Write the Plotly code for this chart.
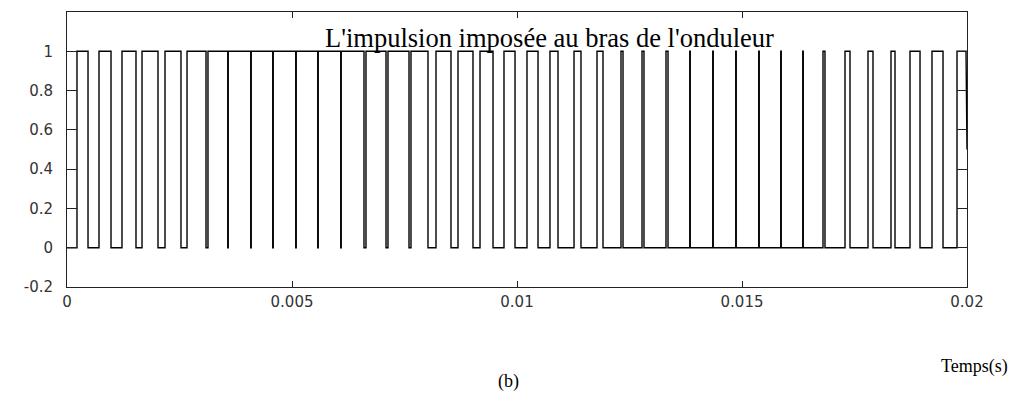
import plotly.graph_objects as go

# Switching instants of the inverter-leg gate signal (s); the signal starts at 0
# and toggles between 0 and 1 at every instant listed.
t_switch = [
    0.000222, 0.000467, 0.000711, 0.000978, 0.001222, 0.001533, 0.001667,
    0.002022, 0.002178, 0.002533, 0.002667, 0.003089, 0.003133,
    0.003572, 0.003583, 0.004083, 0.004094, 0.004572, 0.004583,
    0.005083, 0.005094, 0.005572, 0.005583, 0.006083, 0.006094,
    0.006600, 0.006644, 0.007089, 0.007133, 0.007600, 0.007644,
    0.008022, 0.008200, 0.008533, 0.008689, 0.009022, 0.009178,
    0.009467, 0.009711, 0.009956, 0.010222, 0.010467, 0.010733,
    0.010911, 0.011267, 0.011422, 0.011778, 0.011911, 0.012311,
    0.012356, 0.012778, 0.012822, 0.013311, 0.013356,
    0.013839, 0.013850, 0.014350, 0.014361, 0.014861, 0.014872,
    0.015372, 0.015383, 0.015861, 0.015872, 0.016350, 0.016361,
    0.016800, 0.016844, 0.017289, 0.017400, 0.017800, 0.017911,
    0.018311, 0.018400, 0.018733, 0.018956, 0.019222, 0.019467,
    0.019778,
]
start_level = 0
# last recorded samples of the simulation
t_tail = [0.019978, 0.020]
level_tail = [1, 0.5]

x_ticks = [0, 0.005, 0.01, 0.015, 0.02]
x_tick_labels = ["0", "0.005", "0.01", "0.015", "0.02"]
y_ticks = [-0.2, 0, 0.2, 0.4, 0.6, 0.8, 1]
y_tick_labels = ["-0.2", "0", "0.2", "0.4", "0.6", "0.8", "1"]

title_text = "L'impulsion imposée au bras de l'onduleur"
x_title = "Temps(s)"
caption = "(b)"

# build the step waveform from the switching instants
xs, ys = [0.0], [start_level]
level = start_level
for t in t_switch:
    xs.append(t); ys.append(level)
    level = 1 - level
    xs.append(t); ys.append(level)
xs += t_tail
ys += level_tail

fig = go.Figure()
fig.add_trace(go.Scatter(x=xs, y=ys, mode="lines",
                         line=dict(color="#000000", width=1.4),
                         hoverinfo="skip", showlegend=False))

tick_font = dict(family="DejaVu Sans, Arial, sans-serif", size=15, color="#333333")
fig.update_xaxes(range=[0, 0.02], tickvals=x_ticks, ticktext=x_tick_labels,
                 ticks="inside", ticklen=6, tickcolor="#222222",
                 showline=True, linecolor="#222222", linewidth=1, mirror="allticks",
                 showgrid=False, zeroline=False, tickfont=tick_font,
                 ticklabelstandoff=1)
fig.update_yaxes(range=[-0.2, 1.2], tickvals=y_ticks, ticktext=y_tick_labels,
                 ticks="inside", ticklen=10, tickcolor="#222222",
                 showline=True, linecolor="#222222", linewidth=1, mirror="allticks",
                 showgrid=False, zeroline=False, tickfont=tick_font,
                 ticklabelstandoff=10)

serif = "Times New Roman, Liberation Serif, serif"
fig.add_annotation(text=title_text, xref="paper", yref="paper",
                   x=0.5356, y=0.845, xanchor="center", yanchor="bottom",
                   showarrow=False, font=dict(family=serif, size=26.5, color="#000000"))
fig.add_annotation(text=x_title, xref="paper", yref="paper",
                   x=1.0478, y=-0.288, xanchor="right", yanchor="middle",
                   showarrow=False, font=dict(family=serif, size=18, color="#000000"))
fig.add_annotation(text=caption, xref="paper", yref="paper",
                   x=0.491, y=-0.343, xanchor="center", yanchor="middle",
                   showarrow=False, font=dict(family=serif, size=18, color="#000000"))

fig.update_layout(width=1030, height=402,
                  margin=dict(l=67, r=63, t=12, b=115),
                  paper_bgcolor="white", plot_bgcolor="white")

fig.write_html("out.html")
